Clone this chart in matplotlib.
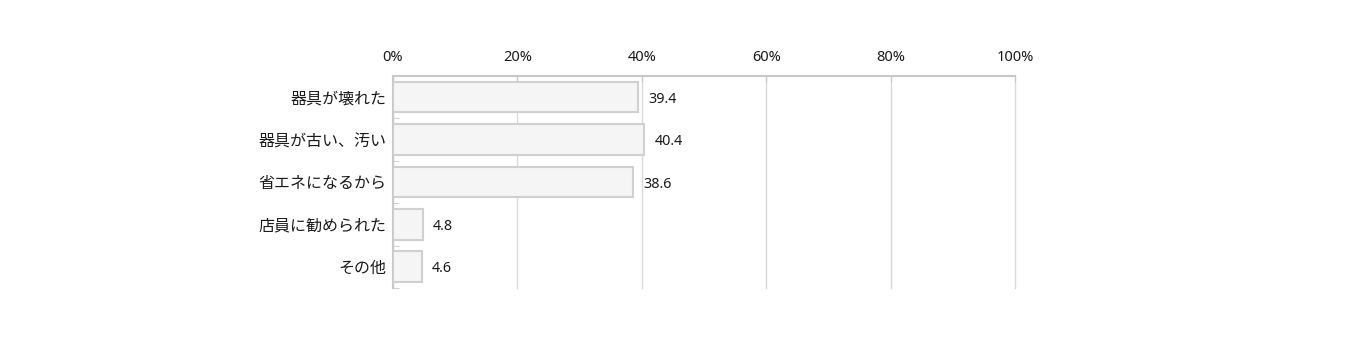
import matplotlib.pyplot as plt
import numpy as np

plt.rcParams['font.family'] = ['Noto Sans CJK JP', 'DejaVu Sans']

categories = ['器具が壊れた', '器具が古い、汚い', '省エネになるから', '店員に勧められた', 'その他']
values = [39.4, 40.4, 38.6, 4.8, 4.6]
xticks = [0, 20, 40, 60, 80, 100]

num_font = ['Noto Sans', 'DejaVu Sans']

fig = plt.figure(figsize=(13.6, 3.42), dpi=100)
ax = fig.add_axes([0.289, 0.158, 0.4574, 0.62])

y = np.arange(len(categories))
ax.barh(y, values, height=0.72, color='#f4f5f4', edgecolor='#d0d0d0', linewidth=1.5, zorder=3)

for yi, v in zip(y, values):
    ax.text(v + 1.6, yi + 0.05, f'{v:.1f}', va='center', ha='left', fontsize=10.3,
            color='#1a1a1a', family=num_font)

ax.set_xlim(0, 100)
ax.set_ylim(len(categories) - 0.5, -0.5)
ax.set_xticks(xticks)
ax.set_xticklabels([f'{t}%' for t in xticks], fontsize=10.5, color='#1a1a1a', family=num_font)
ax.xaxis.tick_top()
ax.tick_params(axis='x', direction='in', length=4, color='#c8c8c8', pad=8)
ax.set_yticks(y)
ax.set_yticklabels(categories, fontsize=11.5, color='#1a1a1a')
ax.set_yticks(np.arange(len(categories)) + 0.5, minor=True)
ax.tick_params(axis='y', which='major', length=0, pad=5)
ax.tick_params(axis='y', which='minor', direction='in', length=4, color='#c8c8c8')

ax.grid(axis='x', color='#d9d9d9', linewidth=1, zorder=0)
for gl in ax.get_xgridlines():
    gl.set_clip_on(False)
for s in ['right', 'bottom']:
    ax.spines[s].set_visible(False)
for s in ['top', 'left']:
    ax.spines[s].set_color('#c8c8c8')
    ax.spines[s].set_linewidth(1.5)

plt.savefig('out.png', dpi=100)
